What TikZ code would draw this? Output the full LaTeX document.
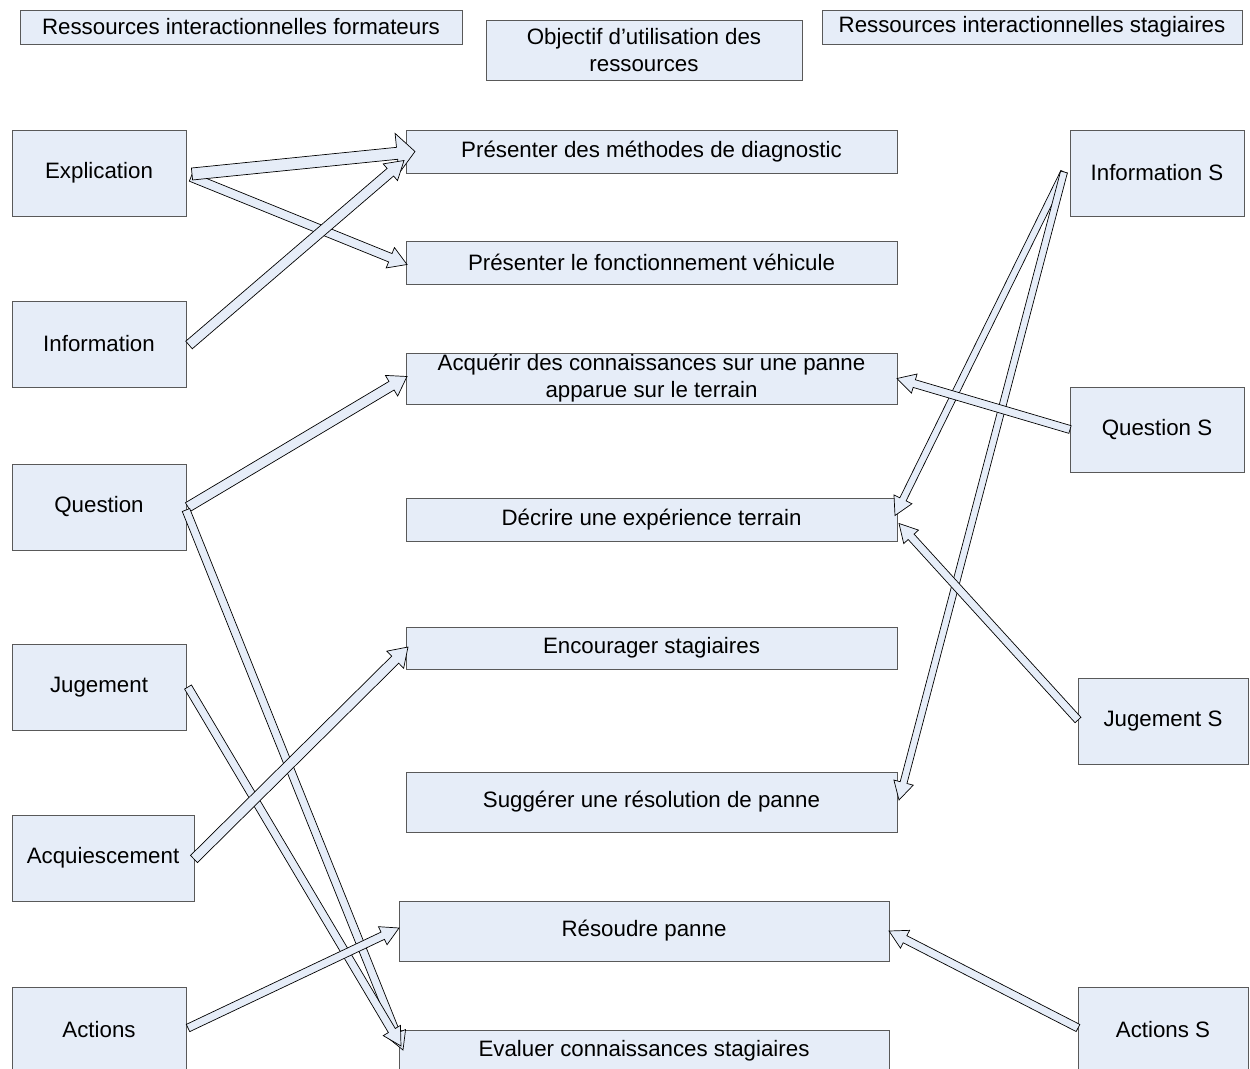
\documentclass[tikz,border=0pt]{standalone}
\usepackage{fontspec}
\setmainfont{Liberation Sans}
\usepackage{tikz}
\usetikzlibrary{positioning,calc}
\definecolor{boxblue}{RGB}{230,237,248}
\tikzset{box/.style={draw=black!65, fill=boxblue, line width=.9pt, inner sep=0pt, outer sep=0pt, anchor=north west, align=center, font=\fontsize{22.3}{27}\selectfont},
  barrow/.style={draw=black, fill=boxblue, line width=.7pt, line join=miter}}
\newcommand{\blockarr}[4]{%
  \coordinate (ba) at ($(#4)!18pt!(#3)$);
  \draw[barrow] ($(#3)!#1!90:(#4)$) -- ($(ba)!#1!90:(#4)$) -- ($(ba)!#2!90:(#4)$) -- (#4)
    -- ($(ba)!#2!-90:(#4)$) -- ($(ba)!#1!-90:(#4)$) -- ($(#3)!#1!-90:(#4)$) -- cycle;}

\begin{document}
\begin{tikzpicture}[x=1pt, y=-1pt]
\useasboundingbox (0,0) rectangle (1250,1068);
\clip (0,0) rectangle (1250,1068);
\node[box, minimum width=442pt, minimum height=34pt] (hform) at (20,10) {Ressources interactionnelles formateurs};
\node[box, minimum width=316pt, minimum height=60pt] (hobj) at (486,20) {Objectif d’utilisation des\\ressources};
\node[box, minimum width=420pt, minimum height=34pt] (hstag) at (822,10) {Ressources interactionnelles stagiaires};

\node[box, minimum width=174pt, minimum height=86pt] (expl) at (12,130) {Explication};
\node[box, minimum width=174pt, minimum height=86pt] (info) at (12,301) {Information};
\node[box, minimum width=174pt, minimum height=86pt] (quest) at (12,464) {Question};
\node[box, minimum width=174pt, minimum height=86pt] (jug) at (12,644) {Jugement};
\node[box, minimum width=182pt, minimum height=86pt] (acq) at (12,815) {Acquiescement};
\node[box, minimum width=174pt, minimum height=86pt] (act) at (12,987) {Actions};

\node[box, minimum width=491pt, minimum height=43pt] (meth) at (406,130) {Présenter des méthodes de diagnostic};
\node[box, minimum width=491pt, minimum height=43pt] (fonct) at (406,241) {Présenter le fonctionnement véhicule};
\node[box, minimum width=491pt, minimum height=51pt] (acqu) at (406,353) {Acquérir des connaissances sur une panne\\apparue sur le terrain};
\node[box, minimum width=491pt, minimum height=43pt] (decr) at (406,498) {Décrire une expérience terrain};
\node[box, minimum width=491pt, minimum height=42pt] (enc) at (406,627) {Encourager stagiaires};
\node[box, minimum width=491pt, minimum height=60pt] (sugg) at (406,772) {Suggérer une résolution de panne};
\node[box, minimum width=490pt, minimum height=60pt] (res) at (399,901) {Résoudre panne};
\node[box, minimum width=490pt, minimum height=42pt] (eval) at (399,1030) {Evaluer connaissances stagiaires};

\node[box, minimum width=174pt, minimum height=86pt] (infoS) at (1070,130) {Information S};
\node[box, minimum width=174pt, minimum height=85pt] (questS) at (1070,387) {Question S};
\node[box, minimum width=170pt, minimum height=86pt] (jugS) at (1078,678) {Jugement S};
\node[box, minimum width=170pt, minimum height=86pt] (actS) at (1078,987) {Actions S};

\coordinate (e1a) at ($(expl.east)+(6,1)$);
\coordinate (e1b) at ($(meth.west)+(9,0)$);
\coordinate (e2a) at ($(expl.east)+(5,4)$);
\coordinate (e2b) at ($(fonct.west)+(1,2)$);
\coordinate (i1a) at ($(info.east)+(3,1)$);
\coordinate (i1b) at ($(meth.west)+(-2,9)$);
\coordinate (q1a) at ($(quest.east)+(2,0)$);
\coordinate (q1b) at ($(acqu.west)+(1,-2)$);
\coordinate (q2a) at ($(quest.east)+(0,3)$);
\coordinate (q2b) at ($(eval.north west)+(4,20)$);
\coordinate (j1a) at ($(jug.east)+(2,0)$);
\coordinate (j1b) at ($(eval.north west)+(2,16)$);
\coordinate (a1a) at ($(acq.east)+(0,1)$);
\coordinate (a1b) at ($(enc.west)+(2,-1)$);
\coordinate (t1a) at ($(act.east)+(2,-2)$);
\coordinate (t1b) at ($(res.west)+(0,-3)$);
\coordinate (s1a) at ($(infoS.west)+(-6,-1)$);
\coordinate (s1b) at ($(decr.east)+(-2,-4)$);
\coordinate (s2b) at ($(sugg.east)+(2,-2)$);
\coordinate (u1b) at ($(acqu.east)+(0,0)$);
\coordinate (g1a) at ($(jugS.west)+(0,-1)$);
\coordinate (g1b) at ($(decr.east)+(2,4)$);
\coordinate (c1a) at ($(actS.west)+(0,-2)$);

\blockarr{4.5pt}{11pt}{e2a}{e2b}
\blockarr{6pt}{20pt}{e1a}{e1b}
\blockarr{5pt}{11pt}{i1a}{i1b}
\blockarr{5pt}{12pt}{q1a}{q1b}
\blockarr{4pt}{10pt}{q2a}{q2b}
\blockarr{4pt}{10pt}{j1a}{j1b}
\blockarr{5pt}{12pt}{a1a}{a1b}
\blockarr{4pt}{10pt}{t1a}{t1b}
\blockarr{3.5pt}{10pt}{s1a}{s1b}
\blockarr{3.5pt}{10pt}{s1a}{s2b}
\blockarr{4pt}{10pt}{questS.west}{u1b}
\blockarr{4pt}{10pt}{g1a}{g1b}
\blockarr{4pt}{10pt}{c1a}{res.east}
\end{tikzpicture}
\end{document}
